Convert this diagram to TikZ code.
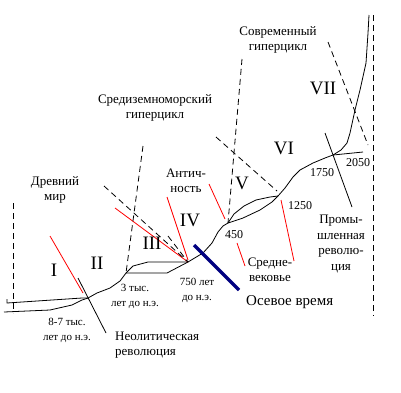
\documentclass[tikz,border=0pt]{standalone}
\usepackage{fontspec}
\setmainfont{Liberation Serif}
\begin{document}
\begin{tikzpicture}[x=1pt,y=-1pt,
  curve/.style={line width=0.8pt,line join=round},
  redline/.style={red,line width=0.8pt},
  blackline/.style={black,line width=0.8pt},
  dashline/.style={black,line width=0.8pt,dash pattern=on 6pt off 4pt},
  axial/.style={color={rgb,255:red,0;green,0;blue,128},line width=3.5pt},
  lbl/.style={inner sep=0pt,align=center,font=\fontsize{13}{15}\selectfont},
  small/.style={inner sep=0pt,align=center,font=\fontsize{11}{15}\selectfont},
  year/.style={inner sep=0pt,font=\fontsize{12}{14}\selectfont},
  roman/.style={inner sep=0pt,font=\fontsize{19}{20}\selectfont}]
\useasboundingbox (0,0) rectangle (401,392);
% junctions
\coordinate (J1) at (88,298);
\coordinate (J2) at (126,273);
\coordinate (J3) at (188,262);
\coordinate (J4) at (228,223);
\coordinate (J5) at (278,196);
\coordinate (J6) at (333,155);
\coordinate (L0) at (4,312);
\coordinate (U0) at (7,303);
\coordinate (H1) at (363,152);
\coordinate (T1) at (369,15);
% main curve
\draw[curve] (L0) -- (50,310) -- (72,305) -- (82,300) -- (J1);
\draw[curve] (7,299) -- (U0) -- (82,298) -- (J1);
\draw[curve] (J1) -- (97,293) -- (110,288) -- (120,281) -- (J2);
\draw[curve] (J2) -- (133,266) -- (148,262) -- (177,262) -- (J3);
\draw[curve] (J2) -- (167,273) -- (J3);
\draw[curve] (J3) -- (203,253) -- (212,243) -- (218,232) -- (223,226) -- (J4);
\draw[curve] (J4) -- (234,214) -- (244,206) -- (256,200) -- (270,197) -- (J5);
\draw[curve] (J4) -- (243,218) -- (260,210) -- (272,202) -- (J5);
\draw[curve] (J5) -- (285,188) -- (293,177) -- (300,170) -- (313,163) -- (325,158) -- (J6);
\draw[curve] (J6) -- (H1);
\draw[curve] (J6) -- (341,150) -- (347,143) -- (350,133) -- (355,110) -- (360,90) -- (366,63) -- (368,33) -- (T1);
% red lines
\coordinate (r1a) at (50,236); \coordinate (r1b) at (83,293);
\coordinate (r2a) at (115,208);
\coordinate (r3a) at (167,197); \coordinate (r3b) at (188,260);
\coordinate (r4a) at (209,184); \coordinate (r4b) at (225,219);
\coordinate (r5a) at (237,243); \coordinate (r5b) at (245,266);
\coordinate (r6a) at (281,200); \coordinate (r6b) at (294,261);
\draw[redline] (r1a) -- (r1b);
\draw[redline] (r2a) -- (J3);
\draw[redline] (r3a) -- (r3b);
\draw[redline] (r4a) -- (r4b);
\draw[redline] (r5a) -- (r5b);
\draw[redline] (r6a) -- (r6b);
% black solid lines
\coordinate (b1a) at (78,278); \coordinate (b1b) at (106,333);
\coordinate (b2a) at (325,133); \coordinate (b2b) at (352,207);
\draw[blackline] (b1a) -- (b1b);
\draw[blackline] (b2a) -- (b2b);
% dashed lines
\coordinate (d1a) at (13,203); \coordinate (d1b) at (13,313);
\coordinate (d2a) at (143,146);
\coordinate (d3a) at (104,186);
\coordinate (d3c) at (168,236);
\coordinate (d4a) at (242,59);
\coordinate (d5a) at (216,137); \coordinate (d5b) at (277,191);
\coordinate (d6a) at (328,42); \coordinate (d6b) at (368,145);
\coordinate (d7a) at (373,15); \coordinate (d7b) at (373,316);
\draw[dashline] (d1a) -- (d1b);
\draw[dashline] (d2a) -- (J2);
\draw[dashline] (d3a) -- (J3);
\draw[dashline] (d3c) -- (J3);
\draw[dashline] (d4a) -- (J4);
\draw[dashline] (d5a) -- (d5b);
\draw[dashline] (d6a) -- (d6b);
\draw[dashline] (d7a) -- (d7b);
% axial time
\coordinate (ax1) at (194,245); \coordinate (ax2) at (239,290);
\draw[axial] (ax1) -- (ax2);
% roman numerals
\node[roman] (nI) at (54,270) {I};
\node[roman] (nII) at (97,263) {II};
\node[roman] (nIII) at (152,243) {III};
\node[roman] (nIV) at (190,220) {IV};
\node[roman] (nV) at (242,183) {V};
\node[roman] (nVI) at (284,148) {VI};
\node[roman] (nVII) at (323,88) {VII};
% labels
\node[lbl] (ancient) at (55,190) {Древний\\мир};
\node[lbl] (medit) at (155,108) {Средиземноморский\\гиперцикл};
\node[lbl] (modern) at (278,40) {Современный\\гиперцикл};
\node[lbl] (antiq) at (186,181) {Антич-\\ность};
\node[lbl] (middle) at (270,270) {Средне-\\вековье};
\node[lbl,font=\fontsize{13}{15.7}\selectfont] (indus) at (341,244) {Промы-\\шленная\\револю-\\ция};
\node[lbl,align=left,anchor=west] (neol) at (115,345) {Неолитическая\\революция};
\node[lbl,anchor=west,font=\fontsize{15}{17}\selectfont] (axial) at (246,302) {Осевое время};
\node[small] (t87) at (67,330) {8-7 тыс.\\лет до н.э.};
\node[small] (t3) at (135,296) {3 тыс.\\лет до н.э.};
\node[small] (t750) at (197,290) {750 лет\\до н.э.};
\node[year] (y450) at (234,235) {450};
\node[year] (y1250) at (300,206) {1250};
\node[year] (y1750) at (322,173) {1750};
\node[year] (y2050) at (358,163) {2050};
\end{tikzpicture}
\end{document}
